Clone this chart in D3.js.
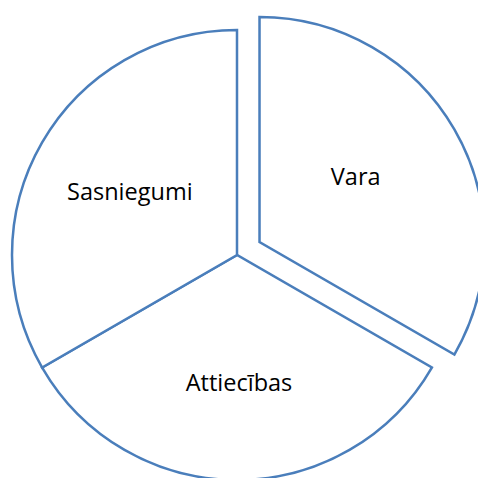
<!DOCTYPE html>
<html><head><meta charset="utf-8">
<script src="https://cdn.jsdelivr.net/npm/d3@7"></script>
<style>html,body{margin:0;padding:0;background:#fff;}svg{display:block;}</style>
</head><body>
<svg id="chart" width="478" height="478"></svg>
<script>
const categories = ["Vara", "Attiecības", "Sasniegumi"];
const values = [1, 1, 1];
const exploded = [true, false, false];

const W = 478, H = 478;
const cx = 237, cy = 255, R = 225, explode = 26;
const fontSize = 23.5;
// label placement nudges (layout only)
const labelNudge = [[-11, -4], [2, 3.5], [0, -1.5]];

const svg = d3.select("#chart");
const g = svg.append("g").attr("transform", `translate(${cx},${cy})`);

const pie = d3.pie().sort(null).value(d => d.v);
const data = categories.map((c, i) => ({c, v: values[i], ex: exploded[i], i}));
const arcs = pie(data);
const arc = d3.arc().innerRadius(0).outerRadius(R);

const slice = g.selectAll("g.slice").data(arcs).join("g")
  .attr("class", "slice")
  .attr("transform", d => {
    if (!d.data.ex) return null;
    const a = (d.startAngle + d.endAngle) / 2;
    return `translate(${explode * Math.sin(a)},${-explode * Math.cos(a)})`;
  });

slice.append("path")
  .attr("d", arc)
  .attr("fill", "#fff")
  .attr("stroke", "#4a7ebb")
  .attr("stroke-width", 2.5)
  .attr("stroke-linejoin", "miter");

const labelArc = d3.arc().innerRadius(R * 0.55).outerRadius(R * 0.55);
slice.append("text")
  .attr("transform", d => {
    const [x, y] = labelArc.centroid(d);
    const [nx, ny] = labelNudge[d.data.i];
    return `translate(${x + nx},${y + ny + fontSize * 0.357})`;
  })
  .attr("text-anchor", "middle")
  .attr("font-family", "'Open Sans', sans-serif")
  .attr("font-size", fontSize)
  .attr("fill", "#000")
  .text(d => d.data.c);
</script>
</body></html>
